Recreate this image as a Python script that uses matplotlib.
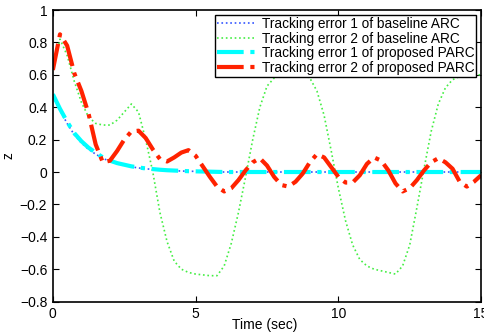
import numpy as np
import matplotlib
matplotlib.use("Agg")
import matplotlib.pyplot as plt

plt.rcParams['font.family'] = ['Liberation Sans', 'DejaVu Sans']

# sample times (sec), 0.25 s step
t = np.arange(0, 15.001, 0.25)

# tracking error 1 of baseline ARC (mostly hidden under PARC error 1)
e1_arc = [0.47, 0.38, 0.30, 0.23, 0.18, 0.14, 0.11, 0.085, 0.065, 0.05, 0.04, 0.032,
          0.025, 0.02, 0.016, 0.012, 0.01, 0.008, 0.006, 0.005, 0.004, 0.003, 0.002, 0.001] + [0.0] * 37

# tracking error 2 of baseline ARC
e2_arc = [0.63, 0.82, 0.72, 0.56, 0.43, 0.34, 0.30, 0.29, 0.29, 0.32, 0.37, 0.42,
          0.37, 0.20, 0.0, -0.25, -0.43, -0.55, -0.60, -0.62, -0.63, -0.635, -0.64, -0.64,
          -0.58, -0.44, -0.25, -0.03, 0.20, 0.40, 0.53, 0.58, 0.60, 0.60, 0.60, 0.60,
          0.58, 0.50, 0.35, 0.13, -0.10, -0.30, -0.45, -0.54, -0.58, -0.60, -0.61, -0.62,
          -0.63, -0.58, -0.45, -0.22, 0.02, 0.25, 0.42, 0.52, 0.57, 0.59, 0.60, 0.60, 0.60]

# tracking error 1 of proposed PARC
e1_parc = [0.48, 0.39, 0.31, 0.24, 0.19, 0.15, 0.12, 0.09, 0.07, 0.055, 0.045, 0.035,
           0.028, 0.022, 0.018, 0.014, 0.011, 0.009, 0.007, 0.005, 0.004, 0.003, 0.002, 0.001] + [0.0] * 37

# tracking error 2 of proposed PARC
e2_parc = [0.63, 0.85, 0.78, 0.61, 0.50, 0.36, 0.17, 0.06, 0.07, 0.13, 0.20, 0.25,
           0.255, 0.21, 0.14, 0.08, 0.065, 0.09, 0.12, 0.135, 0.10, 0.035, -0.03, -0.09,
           -0.12, -0.10, -0.05, 0.01, 0.06, 0.085, 0.04, -0.03, -0.08, -0.09, -0.06, -0.01,
           0.06, 0.11, 0.09, 0.03, -0.03, -0.065, -0.065, -0.02, 0.05, 0.09, 0.07, 0.01,
           -0.07, -0.12, -0.10, -0.05, 0.01, 0.06, 0.085, 0.06, 0.02, -0.06, -0.09, -0.06, -0.02]

labels = ['Tracking error 1 of baseline ARC',
          'Tracking error 2 of baseline ARC',
          'Tracking error 1 of proposed PARC',
          'Tracking error 2 of proposed PARC']

fig = plt.figure(figsize=(4.85, 3.34), dpi=100)
ax = fig.add_axes([0.109, 0.097, 0.883, 0.873])

ax.plot(t, e1_arc, ':', color='#3355ff', lw=1.2, label=labels[0])
ax.plot(t, e2_arc, ':', color='#44ee44', lw=1.2, label=labels[1])
ax.plot(t, e1_parc, '-.', color='#00ffff', lw=3, label=labels[2])
ax.plot(t, e2_parc, '-.', color='#ff2200', lw=3, label=labels[3])

ax.set_xlim(0, 15)
ax.set_ylim(-0.8, 1)
ax.set_xticks([0, 5, 10, 15])
ax.set_yticks(np.arange(-0.8, 1.01, 0.2))
ax.set_yticklabels(['\u22120.8', '\u22120.6', '\u22120.4', '\u22120.2', '0', '0.2', '0.4', '0.6', '0.8', '1'])
ax.tick_params(direction='in', top=True, right=True, length=4, labelsize=10, pad=4)
for s in ax.spines.values():
    s.set_linewidth(1.2)

ax.set_xlabel('Time (sec)', fontsize=10)
ax.set_ylabel('z', fontsize=10)
ax.xaxis.set_label_coords(0.495, -0.055)
ax.yaxis.set_label_coords(-0.088, 0.5)

leg = ax.legend(loc='upper right', fontsize=9.8, fancybox=False, framealpha=1,
                edgecolor='black', borderaxespad=0.35, handlelength=2.8,
                labelspacing=0.05, borderpad=0.15, handletextpad=0.5)
leg.get_frame().set_linewidth(1.0)

fig.savefig('out.png', dpi=100)
